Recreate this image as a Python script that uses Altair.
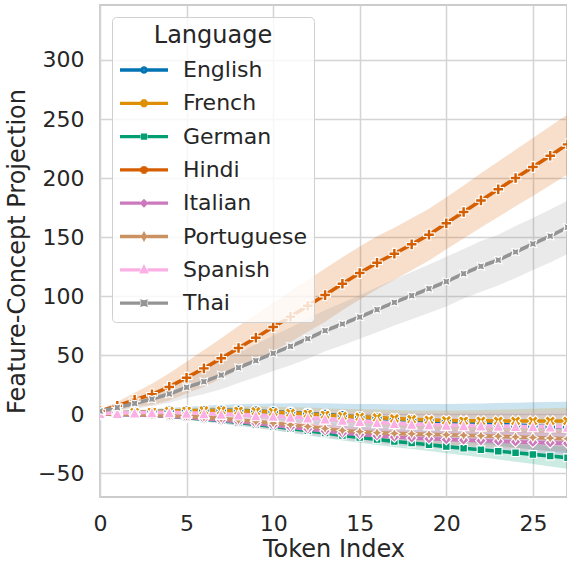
import math

import altair as alt
import pandas as pd

# ---- data -------------------------------------------------------------
languages = ["English", "French", "German", "Hindi", "Italian", "Portuguese", "Spanish", "Thai"]
palette = ["#0173b2", "#de8f05", "#029e73", "#d55e00", "#cc78bc", "#ca9161", "#fbafe4", "#949494"]
token_index = list(range(28))

english = [0.5, 1.0, 1.5, 2.0, 2.5, 2.8, 3.0, 3.2, 3.2, 2.6, 2.0, 1.3, 0.5, -0.3, -1.4, -2.6,
           -3.4, -4.4, -5.0, -5.8, -6.5, -7.2, -8.0, -8.7, -9.4, -10.1, -10.8, -11.5]
english_ci = [0.5, 1.0, 1.6, 2.2, 2.8, 3.4, 4.0, 4.7, 5.4, 6.2, 7.0, 7.8, 8.6, 9.4, 10.2, 11.0,
              11.8, 12.6, 13.4, 14.2, 15.0, 16.0, 17.0, 18.0, 19.0, 20.0, 21.0, 22.0]

french = [0.5, 1.0, 1.5, 2.0, 2.5, 2.8, 3.0, 3.0, 2.8, 2.3, 1.7, 1.0, 0.3, -0.6, -1.7, -2.4,
          -3.0, -3.8, -4.5, -5.0, -5.5, -5.7, -5.8, -5.9, -5.9, -5.9, -5.9, -5.9]
french_ci = [0.4, 0.8, 1.2, 1.6, 2.0, 2.4, 2.8, 3.2, 3.6, 4.0, 4.4, 4.8, 5.2, 5.6, 6.0, 6.4,
             6.8, 7.2, 7.6, 8.0, 8.4, 8.8, 9.2, 9.6, 10.0, 10.4, 10.8, 11.2]

german = [0.0, -0.3, -0.7, -1.3, -2.1, -3.1, -4.3, -5.7, -7.2, -8.8, -10.5, -12.3, -14.2, -16.1,
          -18.1, -19.8, -21.5, -23.3, -24.6, -26.0, -27.6, -29.0, -30.2, -31.5, -32.8, -34.2,
          -35.6, -37.0]
german_ci = [0.3, 0.6, 0.9, 1.2, 1.5, 1.8, 2.1, 2.4, 2.7, 3.0, 3.3, 3.6, 3.9, 4.1, 4.3, 4.5,
             4.7, 4.9, 5.1, 5.3, 5.6, 6.0, 6.5, 7.0, 7.6, 8.2, 8.8, 9.5]

hindi = [2.5, 7.0, 12.0, 16.7, 23.0, 30.8, 38.7, 47.2, 56.0, 64.7, 73.7, 82.5, 91.8, 100.8,
         110.4, 119.5, 128.2, 135.8, 143.8, 152.0, 161.6, 171.2, 181.0, 190.4, 200.0, 209.3,
         218.9, 228.5]
hindi_ci = [1.5, 3.5, 6.0, 9.0, 11.5, 13.5, 15.5, 17.0, 18.5, 19.5, 20.5, 21.5, 22.0, 22.5,
            22.5, 22.5, 22.5, 22.0, 22.0, 22.0, 22.0, 22.5, 23.0, 23.5, 24.0, 24.5, 25.0, 25.5]

italian = [0.0, -0.3, -0.7, -1.2, -2.0, -3.0, -4.0, -5.2, -6.5, -8.0, -9.6, -11.2, -12.8, -14.4,
           -16.2, -17.4, -18.5, -19.5, -20.3, -21.0, -21.6, -22.1, -22.6, -23.1, -23.6, -24.0,
           -24.4, -24.9]
italian_ci = [0.3, 0.6, 0.9, 1.2, 1.6, 2.0, 2.4, 2.8, 3.2, 3.6, 4.0, 4.4, 4.8, 5.2, 5.6, 6.0,
              6.4, 6.8, 7.2, 7.6, 8.0, 8.3, 8.6, 8.9, 9.2, 9.5, 9.8, 10.1]

portuguese = [0.0, -0.2, -0.4, -0.8, -1.3, -2.0, -2.8, -3.7, -5.0, -6.3, -7.7, -9.1, -10.6,
              -12.3, -14.0, -14.9, -15.8, -16.4, -16.8, -17.2, -17.6, -18.0, -18.4, -18.9,
              -19.4, -19.9, -20.4, -21.0]
portuguese_ci = [0.3, 0.6, 1.0, 1.4, 1.8, 2.2, 2.6, 3.0, 3.4, 3.8, 4.2, 4.6, 5.0, 5.4, 5.8, 6.2,
                 6.6, 7.0, 7.4, 7.8, 8.2, 8.6, 9.0, 9.4, 9.8, 10.2, 10.6, 11.0]

spanish = [0.8, 0.8, 1.2, 1.4, 1.4, 1.0, 0.6, 0.0, -0.5, -1.1, -1.7, -2.4, -3.1, -4.0, -5.0,
           -6.0, -7.0, -7.8, -8.4, -8.9, -9.3, -9.6, -9.9, -10.1, -10.3, -10.5, -10.7, -10.9]
spanish_ci = [0.5, 1.0, 1.5, 2.0, 2.5, 3.0, 3.5, 4.0, 4.5, 5.0, 5.5, 6.0, 6.5, 7.0, 7.5, 8.0,
              8.5, 9.0, 9.5, 10.0, 10.4, 10.8, 11.2, 11.6, 12.0, 12.4, 12.8, 13.2]

thai = [2.5, 5.5, 9.0, 12.7, 17.0, 22.6, 27.4, 33.0, 39.3, 45.2, 51.4, 57.4, 63.8, 70.6, 76.3,
        82.2, 88.4, 94.6, 100.3, 106.2, 112.2, 118.9, 125.2, 130.5, 137.3, 144.1, 150.8, 158.2]
thai_ci = [1.5, 3.0, 4.5, 6.0, 7.5, 9.0, 10.5, 12.0, 13.0, 14.0, 15.0, 16.0, 17.0, 17.5, 18.0,
           18.5, 19.0, 19.5, 20.0, 20.5, 21.0, 21.0, 21.5, 21.5, 22.0, 22.0, 22.5, 22.5]

series = {
    "English": (english, english_ci),
    "French": (french, french_ci),
    "German": (german, german_ci),
    "Hindi": (hindi, hindi_ci),
    "Italian": (italian, italian_ci),
    "Portuguese": (portuguese, portuguese_ci),
    "Spanish": (spanish, spanish_ci),
    "Thai": (thai, thai_ci),
}

rows = []
for lang in languages:
    mean, ci = series[lang]
    for x, m, c in zip(token_index, mean, ci):
        rows.append({"Language": lang, "token": x, "value": m, "lo": m - c, "hi": m + c})
df = pd.DataFrame(rows)

# ---- marker shapes (unit box -1..1), seaborn-style marker cycle ---------
circle = [(math.cos(2 * math.pi * k / 20), math.sin(2 * math.pi * k / 20)) for k in range(20)]
x_mark = [(-0.5, -1), (0, -0.5), (0.5, -1), (1, -0.5), (0.5, 0), (1, 0.5), (0.5, 1), (0, 0.5),
          (-0.5, 1), (-1, 0.5), (-0.5, 0), (-1, -0.5)]
square = [(-0.707, -0.707), (0.707, -0.707), (0.707, 0.707), (-0.707, 0.707)]
t = 1 / 3
plus = [(-t, -1), (t, -1), (t, -t), (1, -t), (1, t), (t, t), (t, 1), (-t, 1), (-t, t), (-1, t),
        (-1, -t), (-t, -t)]
diamond = [(0, -1), (1, 0), (0, 1), (-1, 0)]
star4 = [(0, -1), (0.354, -0.354), (1, 0), (0.354, 0.354), (0, 1), (-0.354, 0.354), (-1, 0),
         (-0.354, -0.354)]
triangle = [(0, -1), (1, 1), (-1, 1)]
star4_rot = [(-0.707, -0.707), (0, -0.5), (0.707, -0.707), (0.5, 0), (0.707, 0.707), (0, 0.5),
             (-0.707, 0.707), (-0.5, 0)]
marker_polys = [circle, x_mark, square, plus, diamond, star4, triangle, star4_rot]


def poly_path(pts, scale=1.0, dx=0.0):
    return "M" + "L".join(f"{dx + scale * px:.3f},{scale * py:.3f}" for px, py in pts) + "Z"


point_shapes = [poly_path(p) for p in marker_polys]
# legend glyph: short line with a gap, marker in the middle
legend_shapes = ["M-2,0L2.1,0M3.5,0L7.6,0" + poly_path(p, 0.42, 2.8) for p in marker_polys]

# ---- chart --------------------------------------------------------------
FONT = "DejaVu Sans"
INK = "#262626"
Y_DOMAIN = [-70.3, 346.6]

x_enc = alt.X("token:Q", scale=alt.Scale(domain=[0, 26.97], nice=False, zero=False),
              axis=alt.Axis(values=[0, 5, 10, 15, 20, 25], title="Token Index",
                            labelFlush=False))
y_enc = alt.Y("value:Q", scale=alt.Scale(domain=Y_DOMAIN, nice=False, zero=False),
              axis=alt.Axis(values=[-50, 0, 50, 100, 150, 200, 250, 300],
                            title="Feature-Concept Projection", labelFlush=False))


def color_enc(legend=None):
    return alt.Color("Language:N", scale=alt.Scale(domain=languages, range=palette),
                     legend=legend)


base = alt.Chart(df)

bands = base.mark_area(opacity=0.2, clip=True).encode(
    x=x_enc, y=alt.Y("lo:Q", scale=alt.Scale(domain=Y_DOMAIN, nice=False, zero=False)),
    y2="hi:Q", color=color_enc(), detail="Language:N")

lines = base.mark_line(strokeWidth=3.6, clip=True).encode(
    x=x_enc, y=y_enc, color=color_enc())

points = base.mark_point(filled=True, size=115, opacity=1, stroke="white", strokeWidth=1.1,
                         clip=True).encode(
    x=x_enc, y=y_enc, color=color_enc(),
    shape=alt.Shape("Language:N", scale=alt.Scale(domain=languages, range=point_shapes),
                    legend=None))

legend = alt.Legend(
    title="Language", orient="none", legendX=12, legendY=12,
    titleFont=FONT, titleFontSize=24, titleFontWeight="normal", titleColor=INK,
    titleAnchor="middle", titleAlign="center", titlePadding=11,
    labelFont=FONT, labelFontSize=22, labelColor=INK, labelOffset=42,
    symbolSize=100, symbolStrokeWidth=3.3, symbolOpacity=1,
    rowPadding=11.3, padding=7, fillColor="rgba(255,255,255,0.8)", strokeColor="#d0d0d0",
    cornerRadius=4)

legend_layer = base.mark_point(filled=False, opacity=0, clip=True).encode(
    x=x_enc, y=y_enc, color=color_enc(legend),
    shape=alt.Shape("Language:N", scale=alt.Scale(domain=languages, range=legend_shapes),
                    legend=legend))

chart = alt.layer(bands, lines, points, legend_layer).resolve_scale(
    color="independent", shape="independent"
).properties(
    width=467, height=492,
    padding={"left": 100, "top": 5, "right": 0, "bottom": 67},
    autosize=alt.AutoSizeParams(type="none"),
    background="white",
).configure_axis(
    labelFont=FONT, labelFontSize=22, labelColor=INK, labelPadding=16,
    titleFont=FONT, titleFontSize=24, titleFontWeight="normal", titleColor=INK,
    gridColor="#d4d4d4", gridWidth=1.5, domain=False, ticks=False, tickSize=0,
).configure_axisX(titlePadding=3).configure_axisY(titlePadding=8).configure_view(
    stroke="#cccccc", strokeWidth=2)

chart.save("out.html", embed_options={"renderer": "svg", "actions": False})
